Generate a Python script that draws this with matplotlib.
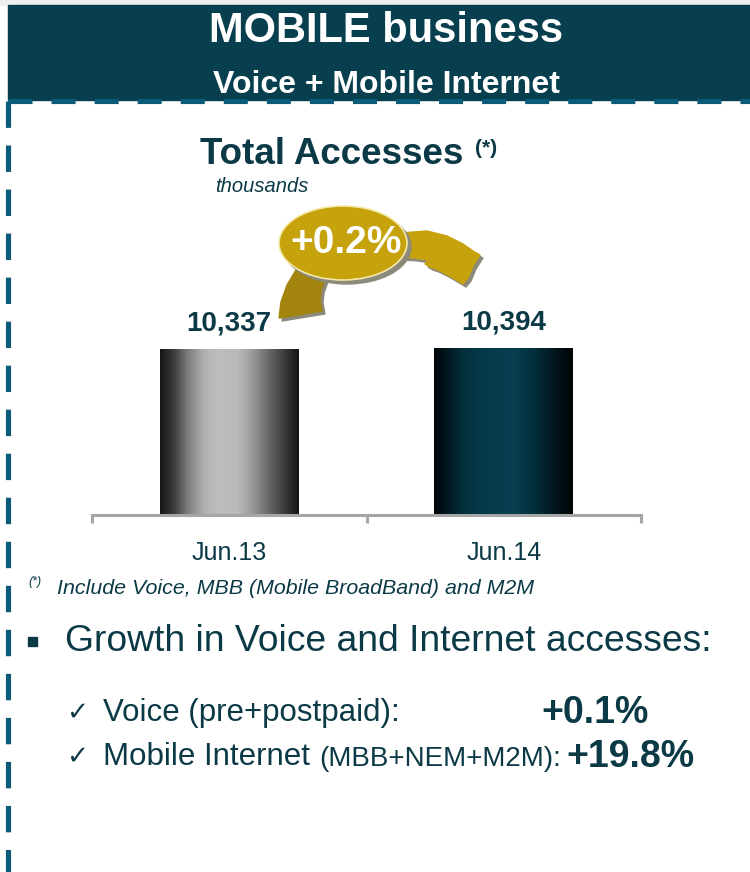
import numpy as np
import matplotlib.pyplot as plt
from matplotlib.colors import LinearSegmentedColormap
from matplotlib.patches import Ellipse, Polygon, Rectangle
from matplotlib.lines import Line2D

plt.rcParams['font.family'] = ['Liberation Sans', 'DejaVu Sans']

# Chart data
periods = ["Jun.13", "Jun.14"]
accesses = [10337, 10394]
growth_label = "+0.2%"
bullet_items = ["Voice (pre+postpaid):", "Mobile Internet"]
bullet_notes = ["", "(MBB+NEM+M2M):"]
bullet_growth = ["+0.1%", "+19.8%"]

TEAL = '#073f4f'
TEXT = '#0b3a46'
DASH = '#0b5b78'
GOLD = '#c6a20c'
GOLD_DARK = '#a3840c'

W, H = 750, 872
fig = plt.figure(figsize=(W / 100, H / 100), dpi=100)
fig.patch.set_facecolor('white')

# overlay in pixel coordinates for the slide decorations
ov = fig.add_axes([0, 0, 1, 1])
ov.set_xlim(0, W)
ov.set_ylim(H, 0)
ov.axis('off')

ov.add_patch(Rectangle((0, 0), W, 5, color='#efefef', zorder=0))
ov.add_patch(Rectangle((8, 5), W - 8, 95, color=TEAL, zorder=1))
ov.text(386, 31, "MOBILE business", color='white', fontsize=30,
        fontweight='bold', ha='center', va='center', zorder=3)
ov.text(386, 85, "Voice + Mobile Internet", color='white', fontsize=23,
        fontweight='bold', ha='center', va='center', zorder=3)

# dashed frame: dash ~24px, gap ~19px at 5px line width
lw = 3.7
ov.add_line(Line2D([8, W], [101, 101], color=DASH, lw=lw,
                   dashes=(17.3 / lw, 13.7 / lw), dash_capstyle='butt',
                   zorder=4))
ov.add_line(Line2D([8, 8], [101, H], color=DASH, lw=lw,
                   dashes=(19.0 / lw, 12.7 / lw), dash_capstyle='butt',
                   zorder=4))

ov.text(200, 154, "Total Accesses", color=TEXT, fontsize=26.5,
        fontweight='bold', ha='left', va='center')
ov.text(475, 148, "(*)", color=TEXT, fontsize=15, fontweight='bold',
        ha='left', va='center')
ov.text(215, 186, "thousands", color=TEXT, fontsize=14.5, style='italic',
        ha='left', va='center')

# bar chart
ax = fig.add_axes([92 / W, (H - 515) / H, 549 / W, 235 / H])
ax.set_xlim(-0.5, 1.5)
ax.set_ylim(0, 14600)
ax.patch.set_alpha(0)
for s in ['left', 'right', 'top']:
    ax.spines[s].set_visible(False)
ax.spines['bottom'].set_color('#a6a6a6')
ax.spines['bottom'].set_linewidth(2.2)
ax.set_yticks([])
ax.set_xticks([-0.5, 0.5, 1.5])
ax.set_xticklabels([])
ax.tick_params(axis='x', which='major', direction='out', length=6,
               width=2.2, color='#a6a6a6')
ax.set_xticks(range(len(periods)), minor=True)
ax.set_xticklabels(periods, minor=True, fontsize=18, color=TEXT)
ax.tick_params(axis='x', which='minor', length=0, pad=19)

gray_cmap = LinearSegmentedColormap.from_list('gray_bar', [
    (0.0, '#151515'), (0.1, '#3c3c3c'), (0.2, '#7e7e7e'), (0.32, '#b2b2b2'),
    (0.42, '#bdbdbd'), (0.56, '#bababa'), (0.66, '#9c9c9c'),
    (0.78, '#6a6a6a'), (0.9, '#3a3a3a'), (1.0, '#141414')])
teal_cmap = LinearSegmentedColormap.from_list('teal_bar', [
    (0.0, '#000507'), (0.1, '#021a22'), (0.22, '#03313d'), (0.35, '#043a49'),
    (0.58, '#063f50'), (0.72, '#03303c'), (0.85, '#021a21'), (1.0, '#000304')])

bar_w = 0.506
bars = ax.bar(range(len(periods)), accesses, width=bar_w, color='none')
grad = np.linspace(0, 1, 256).reshape(1, -1)
for rect, cmap in zip(bars, [gray_cmap, teal_cmap]):
    x0, y0 = rect.get_x(), rect.get_y()
    im = ax.imshow(grad, cmap=cmap, aspect='auto', interpolation='bicubic',
                   extent=[x0, x0 + rect.get_width(), y0, y0 + rect.get_height()],
                   zorder=2)
    im.set_clip_path(rect)
ax.set_xlim(-0.5, 1.5)
ax.set_ylim(0, 14600)

for i, v in enumerate(accesses):
    ax.annotate(f"{v:,}", (i, v), xytext=(0, 9), textcoords='offset points',
                ha='center', va='bottom', fontsize=20, fontweight='bold',
                color=TEXT)

# curved growth arrow with the percentage bubble
shadow = '#8c8a7a'
left_tail = [(279, 318), (281, 302), (287, 285), (296, 270), (312, 258),
             (335, 262), (326, 276), (321, 290), (320, 300), (322, 311)]
right_tail = [(400, 233), (427, 231), (447, 236), (463, 244), (473, 251),
              (480, 255), (473, 266), (468, 278), (463, 284), (448, 275),
              (436, 269), (430, 267), (425, 264), (428, 260), (415, 258),
              (400, 257)]
for pts, col in [(left_tail, GOLD_DARK), (right_tail, GOLD)]:
    ov.add_patch(Polygon([(x + 3, y + 3) for x, y in pts], closed=True,
                         color=shadow, zorder=5))
    ov.add_patch(Polygon(pts, closed=True, color=col, zorder=6))
ov.add_patch(Ellipse((347, 247), 128, 74, color=shadow, zorder=7))
ov.add_patch(Ellipse((343, 243), 128, 74, facecolor=GOLD,
                     edgecolor='#f3e9a8', lw=1.2, zorder=8))
ov.text(346, 243, growth_label, color='white', fontsize=28, fontweight='bold',
        ha='center', va='center', zorder=9)

# footnote and bullet text
ov.text(28, 582, "(*)", color=TEXT, fontsize=9, style='italic',
        ha='left', va='center')
ov.text(57, 588, "Include Voice, MBB (Mobile BroadBand) and M2M", color=TEXT,
        fontsize=15.4, style='italic', ha='left', va='center')

ov.add_patch(Rectangle((28, 637), 9, 9, color=TEXT))
ov.text(65, 641, "Growth in Voice and Internet accesses:", color=TEXT,
        fontsize=26.8, ha='left', va='center')

row_y = [713, 757]
for y, item, note, g in zip(row_y, bullet_items, bullet_notes, bullet_growth):
    ov.text(66, y, "\u2713", color=TEXT, fontsize=19, ha='left', va='center',
            family=['DejaVu Sans'])
    ov.text(103, y, item, color=TEXT, fontsize=22.5, ha='left', va='center')
    if note:
        ov.text(319, y + 2, note, color=TEXT, fontsize=20, ha='left',
                va='center')
        ov.text(566, y, g, color=TEXT, fontsize=27, fontweight='bold',
                ha='left', va='center')
    else:
        ov.text(541, y, g, color=TEXT, fontsize=27, fontweight='bold',
                ha='left', va='center')

fig.savefig('out.png', dpi=100)
